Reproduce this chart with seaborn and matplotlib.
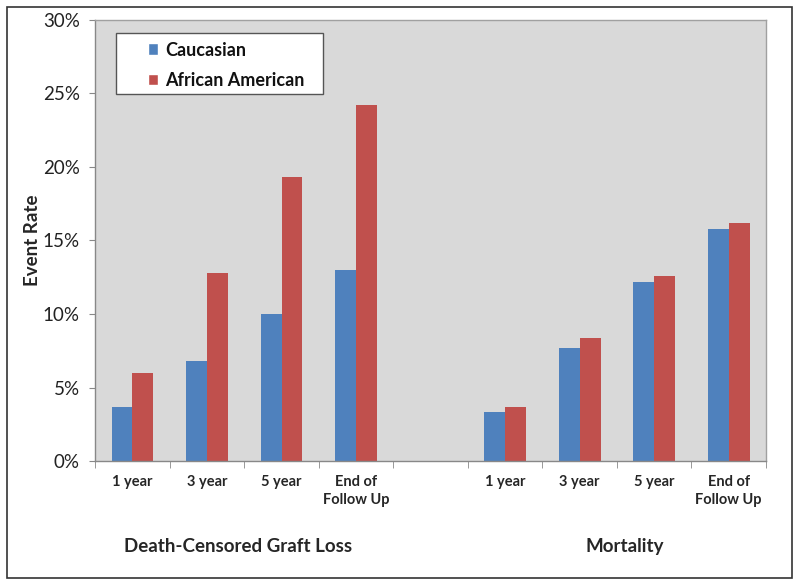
import pandas as pd
import numpy as np
import matplotlib
matplotlib.use("Agg")
import matplotlib.pyplot as plt
import matplotlib.ticker as ticker
from matplotlib.patches import Rectangle, Patch
import seaborn as sns

# Data
slots = ["g1", "g3", "g5", "gend", "gap", "m1", "m3", "m5", "mend"]
slot_labels = ["1 year", "3 year", "5 year", "End of\nFollow Up", "",
               "1 year", "3 year", "5 year", "End of\nFollow Up"]
caucasian = [3.7, 6.8, 10.0, 13.0, np.nan, 3.3, 7.7, 12.2, 15.8]
african_american = [6.0, 12.8, 19.3, 24.2, np.nan, 3.7, 8.4, 12.6, 16.2]
groups = ["Caucasian", "African American"]
group_titles = ["Death-Censored Graft Loss", "Mortality"]

BLUE = "#4F81BD"
RED = "#C0504D"

df = pd.DataFrame({
    "slot": slots * 2,
    "race": [groups[0]] * len(slots) + [groups[1]] * len(slots),
    "rate": caucasian + african_american,
}).dropna()

sns.set_style("white")
plt.rcParams['font.family'] = ['Lato', 'DejaVu Sans']

fig = plt.figure(figsize=(8, 5.84), dpi=100)
ax = fig.add_axes([0.119, 0.2106, 0.8385, 0.7552])

sns.barplot(data=df, x="slot", y="rate", hue="race", order=slots,
            hue_order=groups, palette=[BLUE, RED], saturation=1,
            width=0.56, linewidth=0, ax=ax, legend=False)

ax.set_facecolor("#D9D9D9")
ax.set_xlim(-0.5, len(slots) - 0.5)
ax.set_ylim(0, 30)
ax.yaxis.set_major_locator(ticker.MultipleLocator(5))
ax.yaxis.set_major_formatter(ticker.FuncFormatter(lambda v, p: f"{v:.0f}%"))
ax.tick_params(axis="y", labelsize=13.5, length=4, color="#888888", left=True,
               pad=7, labelcolor="#222222")

ax.set_xticks(range(len(slots)))
ax.set_xticklabels(slot_labels, fontweight="bold", fontsize=10.5, linespacing=1.4)
ax.tick_params(axis="x", which="major", length=0, pad=10)
ax.set_xticks(np.arange(-0.5, len(slots), 1), minor=True)
ax.tick_params(axis="x", which="minor", length=5, color="#888888", bottom=True)

for side in ["left", "bottom"]:
    ax.spines[side].set_color("#888888")
    ax.spines[side].set_linewidth(1)
for side in ["top", "right"]:
    ax.spines[side].set_color("#A0A0A0")
    ax.spines[side].set_linewidth(1)

ax.set_xlabel("")
ax.set_ylabel("Event Rate", fontsize=13.5, fontweight="bold", labelpad=1)

# legend box drawn separately so it can be wider than the entries
ax.add_patch(Rectangle((0.0313, 0.832), 0.309, 0.1385, transform=ax.transAxes,
                       facecolor="white", edgecolor="#555555", linewidth=1,
                       zorder=5))
handles = [Patch(facecolor=BLUE, label=groups[0]),
           Patch(facecolor=RED, label=groups[1])]
leg = ax.legend(handles=handles, loc="upper left", bbox_to_anchor=(0.078, 0.951),
                frameon=False, prop={"weight": "bold", "size": 13},
                handlelength=0.6, handleheight=0.6, handletextpad=0.4,
                labelspacing=0.75, borderpad=0, borderaxespad=0)
leg.set_zorder(6)
for t in leg.get_texts():
    t.set_color("#111111")

fig.text(0.297, 0.065, group_titles[0], ha="center", va="center",
         fontsize=13.5, fontweight="bold")
fig.text(0.781, 0.065, group_titles[1], ha="center", va="center",
         fontsize=13.5, fontweight="bold")

fig.patches.append(Rectangle((0.009, 0.01), 0.981, 0.978, transform=fig.transFigure,
                             fill=False, edgecolor="#333333", linewidth=1.2))

fig.savefig("out.png", dpi=100)
